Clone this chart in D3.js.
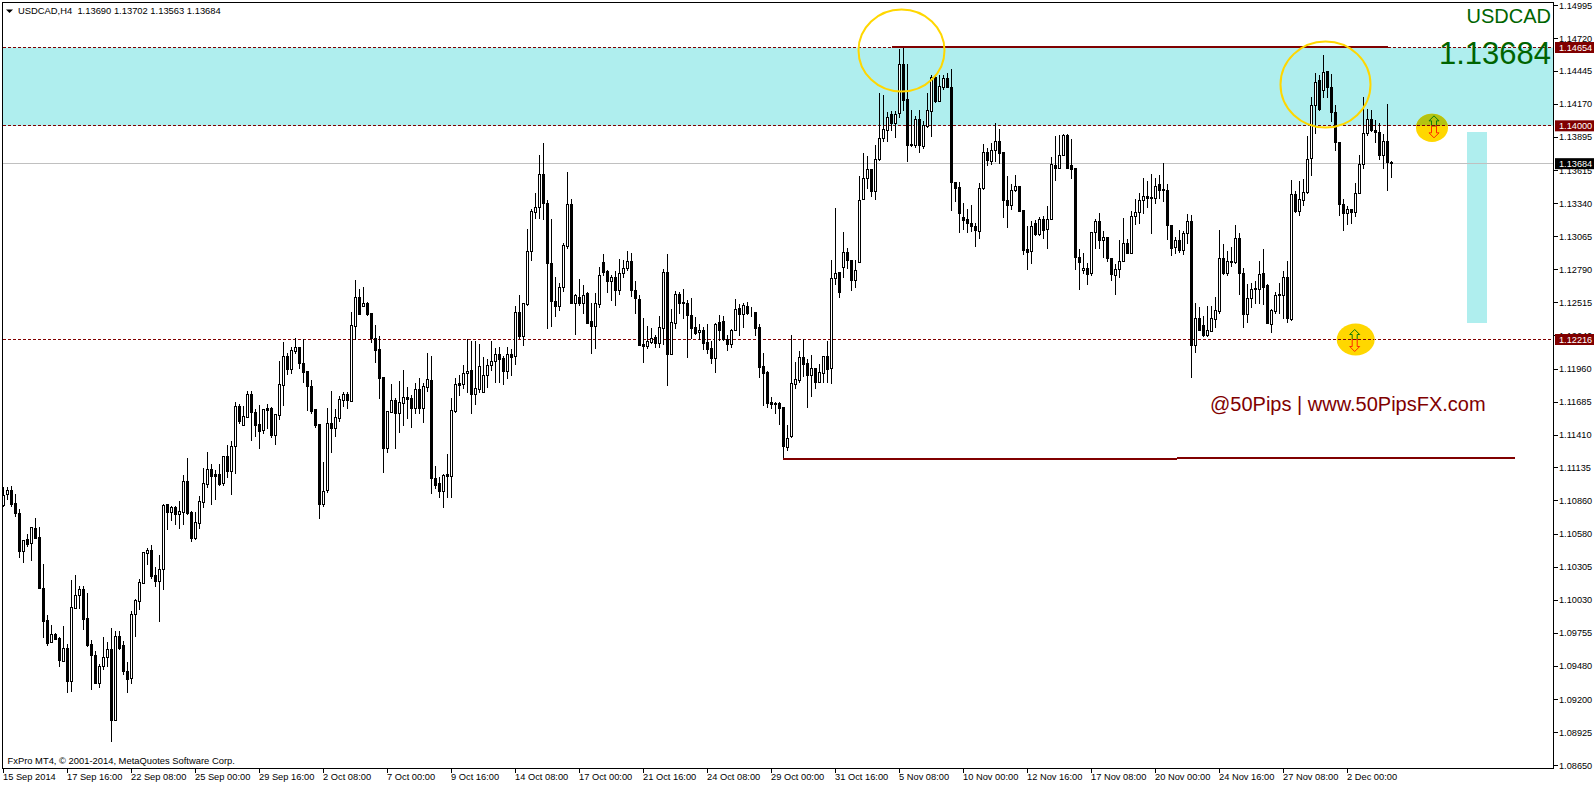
<!DOCTYPE html>
<html><head><meta charset="utf-8">
<style>html,body{margin:0;padding:0;background:#fff;overflow:hidden}svg{display:block}
text{font-family:"Liberation Sans",Arial,sans-serif;white-space:pre}
.axis text{fill:#000}.axis .domain{display:none}.axis line{stroke:#000;shape-rendering:crispEdges}
</style>
<script src="https://cdn.jsdelivr.net/npm/d3@7/dist/d3.min.js"></script>
</head><body><svg id="c" width="1596" height="786"></svg>
<script>
// Quotes in points (1 point = 0.00001)
const opens=[
110823,110915,110948,110843,110759,110445,110540,110506,110634,110556,
110131,109864,109678,109748,109717,109522,109631,109353,109970,110073,
110123,109881,109664,109572,109336,109478,109556,109622,109027,109731,
109656,109442,109378,109914,110028,110178,110426,110448,110242,110195,
110290,110832,110771,110809,110754,110771,111024,110768,110551,110679,
110854,111004,111124,111085,111082,111010,111235,111112,111315,111649,
111496,111563,111752,111599,111499,111454,111632,111635,111407,111580,
111824,112074,111963,112113,112141,112010,111941,111816,111627,111504,
110834,110948,111507,111466,111555,111699,111749,111696,112322,112566,
112489,112516,112427,112224,112127,111891,111304,111605,111699,111596,
111680,111724,111716,111632,111791,111638,111813,111866,111049,111007,
110946,111082,111065,111613,111841,111833,111924,111949,111749,111796,
111771,111908,111991,112024,112083,112052,111946,112083,112066,112441,
112238,112508,112947,113273,113314,113592,113350,112850,112530,112491,
112647,112989,113342,112516,112566,112516,112594,112358,112322,112505,
112858,112778,112697,112733,112622,112764,112808,112867,112625,112544,
112169,112155,112188,112227,112180,112305,112775,112088,112347,112591,
112519,112516,112416,112311,112272,112291,112183,112133,112055,112350,
112366,112216,112169,112286,112472,112422,112491,112433,112441,112308,
111983,111935,111685,111677,111674,111643,111313,111399,111838,111871,
112058,112010,111913,111966,111855,111930,112074,111966,112722,112775,
112814,112942,112875,112705,112858,113378,113556,113634,113447,113712,
113890,113959,114087,114015,114098,114509,114212,113837,113829,114045,
113823,113990,114117,114401,114198,114320,114393,114318,113526,113478,
113233,113211,113183,113158,113117,113473,113776,113698,113789,113867,
113773,113375,113331,113456,113486,113286,112967,112947,113178,113086,
113211,113128,113214,113662,113637,113748,113912,113662,113637,112900,
112791,112808,112764,113106,113195,113039,113061,112892,112747,112800,
112864,113017,112931,113239,113273,113373,113409,113395,113389,113503,
113462,113459,113167,112978,113036,112956,113097,113200,112163,112383,
112325,112244,112280,112380,112447,112892,112764,112867,112856,113058,
112767,112422,112550,112641,112630,112767,112661,112338,112444,112591,
112583,112733,112377,113420,113281,113373,113439,113723,114165,114371,
114290,114446,114318,114109,113859,113342,113264,113300,113273,113431,
113673,113931,114051,113959,113943,113748,113867,113690];
const closes=[
110912,110948,110837,110757,110445,110531,110501,110640,110554,110131,
109861,109675,109748,109709,109528,109631,109353,109973,110073,110123,
109878,109661,109570,109336,109481,109556,109622,109027,109734,109636,
109436,109375,109914,110034,110181,110431,110448,110234,110195,110290,
110826,110771,110807,110754,110773,111024,110759,110551,110682,110857,
111007,111124,111071,111071,111001,111235,111112,111315,111649,111529,
111566,111752,111599,111496,111446,111624,111621,111413,111582,111833,
112074,111963,112116,112141,112010,111938,111816,111610,111496,110837,
110946,111507,111466,111557,111707,111749,111699,112325,112566,112422,
112516,112422,112222,112122,111888,111299,111607,111699,111596,111682,
111724,111707,111632,111791,111638,111816,111874,111051,110996,110946,
111074,111065,111616,111833,111830,111924,111946,111755,111799,111983,
111908,111991,112024,112083,112049,111946,112083,112063,112441,112238,
112516,112950,113284,113317,113592,113350,112847,112530,112489,112647,
113000,113342,112511,112578,112511,112583,112347,112322,112516,112744,
112772,112697,112733,112622,112767,112808,112864,112622,112550,112163,
112155,112191,112224,112180,112308,112775,112088,112350,112591,112511,
112511,112414,112302,112266,112291,112177,112127,112055,112341,112286,
112211,112169,112283,112466,112422,112494,112427,112427,112305,111980,
111930,111677,111671,111666,111638,111321,111382,111841,111874,112058,
112002,111913,111966,111855,111933,112074,111963,112725,112766,112605,
112942,112872,112705,112791,113375,113559,113634,113447,113717,113892,
113962,114067,114012,114092,114509,114204,113831,113829,114045,113829,
113995,114120,114401,114195,114326,114393,114315,113523,113473,113264,
113206,113181,113153,113122,113475,113776,113706,113792,113867,113764,
113372,113328,113459,113492,113281,112955,112936,113158,113086,113211,
113125,113217,113670,113639,113745,113915,113642,113631,112897,112855,
112808,112752,113108,113195,113039,113067,112892,112753,112800,112867,
113017,112931,113242,113275,113373,113409,113389,113389,113489,113456,
113456,113164,112972,113036,112956,113100,113200,112163,112383,112286,
112247,112283,112383,112450,112892,112764,112867,112856,113058,112764,
112422,112558,112633,112630,112758,112650,112344,112450,112583,112580,
112733,112383,113420,113278,113384,113442,113717,114168,114360,114134,
114443,114315,114109,113856,113339,113261,113300,113270,113434,113676,
113934,114051,113954,113937,113745,113867,113690,113684];
const highs=[
110973,110976,110982,110918,110790,110531,110584,110640,110718,110643,
110334,109909,109820,109753,109722,109814,109664,110201,110242,110153,
110153,110092,109697,109606,109497,109722,109686,109800,109773,109773,
109689,109514,109937,110042,110209,110431,110465,110493,110306,110409,
110832,110832,110815,110815,110862,111079,111218,110779,110765,110898,
111135,111268,111168,111115,111168,111235,111324,111363,111682,111671,
111649,111774,111774,111627,111660,111624,111666,111641,111582,112030,
112183,112094,112141,112224,112141,112216,111941,111869,111627,111504,
111182,111632,111777,111627,111738,111766,111766,112439,112703,112633,
112642,112522,112427,112327,112238,111891,111613,111833,111716,111860,
111949,111810,111744,111841,111883,111844,112094,112069,111149,111057,
111085,111251,111716,111888,111910,111994,112216,112194,112194,112169,
112058,112044,112194,112136,112149,112072,112141,112127,112486,112578,
112516,113128,113295,113434,113745,113845,113373,113211,112733,112683,
113017,113603,113378,112586,112711,112661,112605,112511,112600,112817,
112919,112789,112744,112780,112878,112872,112950,112933,112697,112583,
112391,112322,112300,112244,112400,112794,112919,112466,112616,112605,
112633,112536,112558,112394,112336,112316,112333,112197,112344,112411,
112405,112244,112294,112544,112502,112511,112522,112477,112441,112341,
112094,111946,111724,111688,111682,111643,111493,112244,112022,112113,
112216,112044,112077,111966,112002,112074,112194,112869,113308,112775,
113108,112975,112875,112875,113570,113762,113739,113634,113834,114262,
114245,114106,114115,114115,114629,114648,114504,114123,114073,114123,
114031,114262,114420,114412,114412,114420,114429,114468,113526,113523,
113345,113295,113331,113178,113517,113837,113809,113851,114012,113967,
113773,113573,113503,113578,113489,113286,113156,113200,113206,113233,
113239,113322,113734,113906,113912,113920,113920,113884,113637,112967,
112928,112850,113108,113217,113267,113114,113061,112892,112836,113039,
113225,113045,113278,113378,113428,113553,113531,113587,113559,113578,
113684,113503,113167,113067,113120,113114,113253,113250,112516,112483,
112405,112489,112489,112566,113120,113003,112947,112983,113161,113095,
112803,112669,112683,112697,112864,112961,112669,112461,112605,112683,
112780,112861,113537,113448,113531,113545,113906,114234,114429,114412,
114579,114451,114421,114162,113859,113378,113323,113300,113512,113751,
114234,114129,114120,114040,114018,113926,114170,113702];
const lows=[
110821,110876,110815,110737,110395,110354,110481,110370,110554,110131,
109720,109659,109678,109703,109478,109522,109261,109269,109970,109970,
109792,109647,109286,109336,109303,109453,109481,108858,109027,109620,
109417,109261,109336,109736,109959,110178,110334,110215,110148,109861,
110128,110626,110704,110668,110634,110668,110748,110529,110543,110634,
110812,110979,110834,110876,110993,110996,111057,110921,111093,111513,
111496,111563,111371,111402,111304,111427,111466,111390,111338,111543,
111660,111921,111930,112099,111972,111849,111621,111593,111474,110715,
110821,110937,111271,111404,111527,111655,111638,111696,112216,112422,
112489,112411,112183,112016,111716,111104,111265,111605,111304,111432,
111496,111555,111479,111593,111593,111521,111780,110929,110971,110896,
110812,110896,110896,111602,111744,111805,111766,111596,111666,111766,
111771,111813,111955,111849,111849,111838,111888,111913,111999,112224,
112163,112494,112872,113223,113223,113217,112305,112322,112405,112450,
112611,112972,112511,112255,112497,112425,112347,112094,112138,112480,
112750,112605,112539,112494,112589,112733,112789,112572,112433,112163,
112022,112138,112177,112149,112149,112172,111830,112088,112302,112427,
112391,112063,112222,112250,112208,112127,112094,112010,111938,112205,
112205,112122,112149,112283,112244,112311,112422,112400,112244,111896,
111663,111643,111632,111593,111502,111221,111288,111390,111802,111855,
111905,111646,111738,111805,111855,111855,111855,111844,112669,112563,
112733,112808,112622,112647,112858,113378,113475,113406,113384,113706,
113862,113862,113959,113898,114065,114120,113695,113823,113817,113773,
113806,113984,113906,114190,114198,114301,114315,113289,113367,113106,
113128,113106,113111,112989,113056,113461,113667,113673,113698,113681,
113231,113144,113295,113445,113281,112919,112794,112850,113078,113078,
113058,112969,113211,113536,113637,113748,113637,113556,112794,112627,
112761,112669,112744,112972,112975,112900,112864,112705,112586,112728,
112864,112931,112931,113170,113178,113267,113317,113095,113350,113392,
113362,113045,112914,112933,112939,112919,113017,111896,112105,112286,
112233,112233,112280,112308,112427,112758,112744,112822,112844,112586,
112313,112355,112477,112516,112511,112500,112344,112272,112433,112433,
112389,112350,112372,113273,113245,113328,113428,113578,113929,114123,
114229,114229,114031,113790,113248,113122,113170,113178,113239,113431,
113642,113912,113945,113856,113712,113640,113453,113563];

const timeLabels=["15 Sep 2014","17 Sep 16:00","22 Sep 08:00","25 Sep 00:00","29 Sep 16:00","2 Oct 08:00","7 Oct 00:00","9 Oct 16:00","14 Oct 08:00","17 Oct 00:00","21 Oct 16:00","24 Oct 08:00","29 Oct 00:00","31 Oct 16:00","5 Nov 08:00","10 Nov 00:00","12 Nov 16:00","17 Nov 08:00","20 Nov 00:00","24 Nov 16:00","27 Nov 08:00","2 Dec 00:00"];
const priceTicks=[1.14995,1.14720,1.14445,1.14170,1.13895,1.13615,1.13340,1.13065,1.12790,1.12515,1.12240,1.11960,1.11685,1.11410,1.11135,1.10860,1.10580,1.10305,1.10030,1.09755,1.09480,1.09200,1.08925,1.08650];
const levelHigh=1.14654, levelMid=1.14000, levelLow=1.12216, lastPrice=1.13684;
const header="USDCAD,H4  1.13690 1.13702 1.13563 1.13684";
const copyright="FxPro MT4, \u00a9 2001-2014, MetaQuotes Software Corp.";
const symbol="USDCAD", watermark="@50Pips | www.50PipsFX.com";
const topTrend=[[222,1.14662],[346,1.14662]];
const bottomTrend=[[195,1.11217],[378,1.11227]];

const plotL=2.5,plotR=1553.5,plotT=2.5,plotB=768.5;
const x=d3.scaleLinear().domain([0,347]).range([3.5,1391.5]);
const y=d3.scaleLinear().domain([levelHigh,levelLow]).range([47.5,339.5]);
const snap=v=>Math.floor(y(v)-0.5)+0.5;
const svg=d3.select("#c");
const gold="#FFD700",maroon="#800000",band="#AFEEEE",dark="#006400";

// support/resistance zone and side bar
svg.append("rect").attr("x",plotL).attr("width",plotR-plotL).attr("y",y(levelHigh)).attr("height",y(levelMid)-y(levelHigh)).attr("fill",band);
svg.append("rect").attr("x",1467).attr("width",20).attr("y",132).attr("height",191).attr("fill",band);

// horizontal levels
svg.selectAll(".lvl").data([levelHigh,levelMid,levelLow]).join("line").attr("x1",plotL).attr("x2",plotR)
 .attr("y1",d=>y(d)).attr("y2",d=>y(d)).attr("stroke",maroon).attr("stroke-dasharray","3,2").attr("shape-rendering","crispEdges");
svg.append("line").attr("x1",plotL).attr("x2",plotR).attr("y1",y(lastPrice)).attr("y2",y(lastPrice)).attr("stroke","#c0c0c0").attr("shape-rendering","crispEdges");

// candles
const idx=d3.range(opens.length);
const g=svg.append("g").attr("shape-rendering","crispEdges");
g.selectAll(".w").data(idx).join("line").attr("x1",i=>x(i)).attr("x2",i=>x(i))
 .attr("y1",i=>snap(highs[i]/1e5)-0.5).attr("y2",i=>snap(lows[i]/1e5)+0.5).attr("stroke","#000");
g.selectAll(".b").data(idx).join("rect")
 .attr("x",i=>x(i)-1).attr("width",2)
 .attr("y",i=>snap(Math.max(opens[i],closes[i])/1e5))
 .attr("height",i=>Math.max(0,snap(Math.min(opens[i],closes[i])/1e5)-snap(Math.max(opens[i],closes[i])/1e5)))
 .attr("fill",i=>closes[i]>=opens[i]?"#fff":"#000").attr("stroke","#000");

// trend lines
const tl=d3.line().x(d=>x(d[0])).y(d=>y(d[1]));
[topTrend,bottomTrend].forEach(t=>svg.append("path").attr("d",tl(t)).attr("fill","none").attr("stroke",maroon).attr("stroke-width",2).attr("shape-rendering","crispEdges"));

// highlight rings
const rings=[[224.5,1.14629,43,41],[330.5,1.14345,45,43]];
svg.selectAll(".ring").data(rings).join("ellipse").attr("cx",d=>x(d[0])).attr("cy",d=>y(d[1])).attr("rx",d=>d[2]).attr("ry",d=>d[3])
 .attr("fill","none").attr("stroke",gold).attr("stroke-width",2);

// gold discs with arrows on the levels
function disc(cx,ry,rx,price,arrowX,topColor){
  const cy=y(price);
  const cyD=cy+(topColor?2:0);
  svg.append("ellipse").attr("cx",cx).attr("cy",cyD).attr("rx",rx).attr("ry",ry).attr("fill",gold);
  if(topColor){
    svg.append("clipPath").attr("id","clipTop").append("rect").attr("x",cx-rx-2).attr("y",cy-ry-6).attr("width",2*rx+4).attr("height",ry+6);
    svg.append("ellipse").attr("cx",cx).attr("cy",cyD).attr("rx",rx).attr("ry",ry).attr("fill",topColor).attr("clip-path","url(#clipTop)");
  }
  const up=[[0,-10],[5,-5],[2.5,-5],[2.5,0],[-2.5,0],[-2.5,-5],[-5,-5]];
  const dn=[[-2.5,0],[2.5,0],[2.5,7],[5,7],[0,12],[-5,7],[-2.5,7]];
  svg.append("polygon").attr("points",up.map(p=>[arrowX+p[0],cy+p[1]].join(",")).join(" ")).attr("fill","none").attr("stroke","#0b7a0b").attr("stroke-width",1);
  svg.append("polygon").attr("points",dn.map(p=>[arrowX+p[0],cy+p[1]].join(",")).join(" ")).attr("fill","none").attr("stroke","#ff2a00").attr("stroke-width",1);
  svg.append("line").attr("x1",cx-rx+1).attr("x2",cx+rx-1).attr("y1",cy).attr("y2",cy).attr("stroke",maroon).attr("stroke-dasharray","3,2").attr("shape-rendering","crispEdges");
}
disc(1432,14.2,16,levelMid,1434,"#B4C310");
disc(1355.7,16,19,levelLow,1354.7,null);

// frame
svg.append("rect").attr("x",plotL).attr("y",plotT).attr("width",plotR-plotL).attr("height",plotB-plotT).attr("fill","none").attr("stroke","#000").attr("shape-rendering","crispEdges");

// axes
const xAxis=d3.axisBottom(x).tickValues(timeLabels.map((_,i)=>i*16)).tickFormat((d,i)=>timeLabels[i]).tickSize(4).tickPadding(0).offset(0);
const gx=svg.append("g").attr("class","axis").attr("transform",`translate(0,${plotB})`).call(xAxis);
gx.selectAll("text").attr("text-anchor","start").attr("x",-0.5).attr("y",5).attr("dy","0.71em").attr("font-size",9.3).style("font-size","9.3px");
const yAxis=d3.axisRight(y).tickValues(priceTicks).tickFormat(d=>d.toFixed(5)).tickSize(4).tickPadding(1.5).offset(-1);
const gy=svg.append("g").attr("class","axis").attr("transform",`translate(${plotR},0)`).call(yAxis);
gy.selectAll("text").style("font-size","9.2px");

// price badges
[[levelHigh,maroon],[levelMid,maroon],[levelLow,maroon],[lastPrice,"#000"]].forEach(([p,c])=>{
  svg.append("rect").attr("x",1555).attr("width",39).attr("y",y(p)-5.5).attr("height",11).attr("fill",c);
  svg.append("text").attr("x",1559).attr("y",y(p)+3.5).attr("font-size",9.2).attr("fill","#fff").text(p.toFixed(5));
});

// corner texts
svg.append("path").attr("d","M6,9.5L13,9.5L9.5,13Z").attr("fill","#000");
svg.append("text").attr("x",18).attr("y",13.5).attr("font-size",9.4).attr("fill","#000").text(header);
svg.append("text").attr("x",7.5).attr("y",764).attr("font-size",9.4).attr("fill","#000").text(copyright);
svg.append("text").attr("x",1551).attr("y",23).attr("text-anchor","end").attr("font-size",20).attr("fill",dark).text(symbol);
svg.append("text").attr("x",1551).attr("y",64).attr("text-anchor","end").attr("font-size",31).attr("fill",dark).text(lastPrice.toFixed(5));
svg.append("text").attr("x",1210).attr("y",411).attr("font-size",20).attr("fill",maroon).text(watermark);
</script></body></html>
